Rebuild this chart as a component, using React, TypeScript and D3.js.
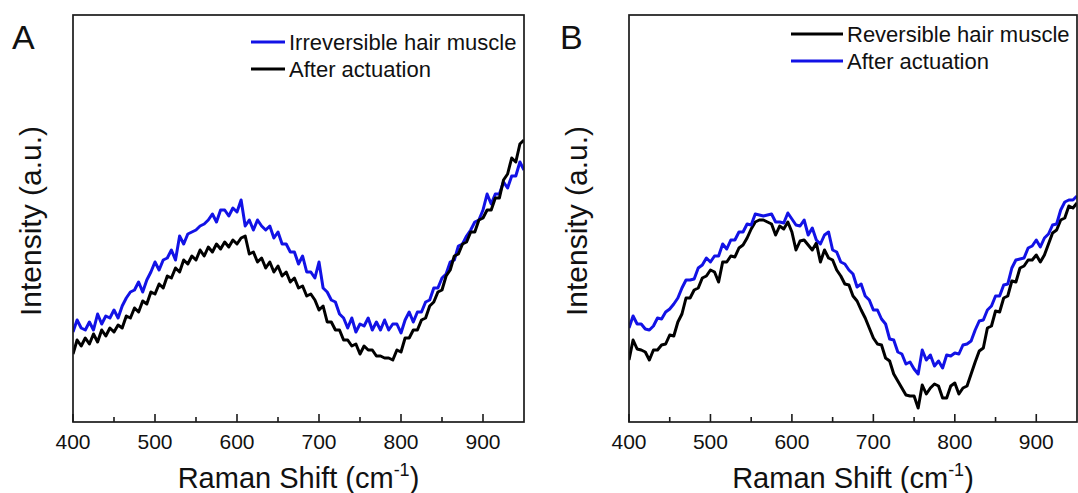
import React from 'react';
import * as d3 from 'd3';

// Raman shift sampling grid (cm-1)
const shifts: number[] = d3.range(400, 951, 5);

// Panel A
const irreversibleA = [
  90, 102, 94, 92, 100, 92, 108, 98, 106, 104,
  112, 104, 116, 124, 130, 132, 140, 130, 142, 150,
  160, 152, 162, 164, 172, 162, 186, 178, 188, 190,
  192, 196, 198, 202, 208, 200, 212, 212, 206, 214,
  210, 222, 196, 202, 192, 202, 196, 192, 196, 184,
  190, 178, 178, 170, 170, 158, 166, 150, 150, 144,
  160, 134, 130, 122, 120, 108, 104, 94, 104, 90,
  98, 96, 104, 92, 100, 92, 102, 92, 98, 98,
  89, 102, 110, 100, 110, 110, 120, 122, 134, 134,
  144, 148, 160, 162, 176, 178, 186, 192, 200, 202,
  212, 228, 218, 228, 228, 240, 234, 246, 246, 260,
  252,
];
const afterA = [
  68, 82, 76, 84, 78, 88, 80, 92, 86, 94,
  90, 97, 94, 106, 104, 114, 110, 121, 118, 130,
  128, 138, 134, 146, 144, 154, 150, 162, 158, 166,
  162, 172, 166, 175, 170, 178, 173, 180, 175, 182,
  178, 184, 186, 168, 170, 160, 164, 154, 160, 150,
  156, 146, 150, 140, 144, 134, 136, 126, 128, 122,
  112, 116, 100, 100, 92, 92, 82, 82, 76, 78,
  68, 76, 72, 72, 66, 66, 64, 64, 62, 72,
  70, 84, 84, 92, 92, 102, 104, 116, 120, 130,
  132, 146, 152, 166, 168, 178, 180, 190, 190, 202,
  204, 212, 212, 224, 224, 242, 248, 264, 260, 278,
  282,
];

// Panel B
const reversibleB = [
  62, 82, 73, 72, 70, 62, 72, 72, 77, 78,
  87, 86, 100, 108, 124, 124, 132, 134, 144, 146,
  152, 150, 140, 160, 160, 166, 165, 174, 177, 184,
  193, 200, 202, 202, 200, 198, 187, 196, 193, 200,
  190, 172, 181, 182, 177, 172, 179, 160, 172, 164,
  162, 152, 146, 138, 137, 126, 121, 112, 104, 94,
  84, 78, 77, 64, 61, 48, 41, 34, 27, 26,
  26, 14, 37, 28, 34, 38, 36, 24, 24, 36,
  39, 28, 34, 36, 48, 60, 71, 74, 94, 96,
  111, 110, 124, 126, 141, 140, 154, 156, 162, 162,
  167, 160, 167, 178, 189, 192, 202, 204, 216, 214,
  219,
];
const afterB = [
  94, 106, 98, 98, 93, 92, 96, 104, 103, 110,
  113, 118, 124, 134, 142, 142, 143, 154, 157, 164,
  160, 166, 166, 178, 173, 182, 182, 190, 190, 198,
  197, 208, 207, 206, 207, 208, 200, 200, 199, 209,
  203, 197, 196, 202, 187, 194, 182, 178, 187, 190,
  172, 170, 160, 158, 152, 148, 135, 138, 126, 122,
  112, 112, 103, 98, 83, 82, 70, 68, 58, 60,
  53, 48, 72, 62, 67, 56, 61, 54, 67, 66,
  69, 68, 77, 78, 81, 92, 101, 102, 112, 116,
  126, 126, 137, 138, 154, 162, 163, 164, 174, 176,
  182, 175, 184, 188, 197, 198, 212, 220, 222, 222,
  226,
];

const majorTicks = [400, 500, 600, 700, 800, 900];
const minorTicks = [450, 550, 650, 750, 850];
const xDomain: [number, number] = [400, 950];
const yDomain: [number, number] = [0, 407];

const BLUE = '#1212e6';
const BLACK = '#000000';
const FONT = '"Liberation Sans", Arial, Helvetica, sans-serif';

type Series = { name: string; values: number[]; color: string };

function Panel(props: {
  id: string;
  letter: string;
  left: number;
  right: number;
  letterX: number;
  yLabelX: number;
  drawOrder: Series[];
  legendOrder: Series[];
  legendLine: [number, number];
  legendTextX: number;
  legendRows: [number, number];
}) {
  const top = 15;
  const bottom = 422;
  const x = d3.scaleLinear().domain(xDomain).range([props.left, props.right]);
  const y = d3.scaleLinear().domain(yDomain).range([bottom, top]);
  const line = d3
    .line<number>()
    .x((_, i) => x(shifts[i]))
    .y((v) => y(v))
    .curve(d3.curveLinear);
  const cx = (props.left + props.right) / 2;
  return (
    <g>
      <defs>
        <clipPath id={`clip-${props.id}`}>
          <rect x={props.left} y={top} width={props.right - props.left} height={bottom - top} />
        </clipPath>
      </defs>
      <g clipPath={`url(#clip-${props.id})`}>
        {props.drawOrder.map((s) => (
          <path
            key={s.name}
            d={line(s.values) || ''}
            fill="none"
            stroke={s.color}
            strokeWidth={3}
            strokeLinejoin="round"
          />
        ))}
      </g>
      <rect
        x={props.left}
        y={top}
        width={props.right - props.left}
        height={bottom - top}
        fill="none"
        stroke="#1a1a1a"
        strokeWidth={1.7}
      />
      {majorTicks.map((t) => (
        <g key={`M${t}`}>
          <line x1={x(t)} x2={x(t)} y1={bottom} y2={bottom - 8} stroke="#1a1a1a" strokeWidth={1.6} />
          <text x={x(t)} y={449} textAnchor="middle" fontSize={21} fontFamily={FONT} fill="#111">
            {t}
          </text>
        </g>
      ))}
      {minorTicks.map((t) => (
        <line key={`m${t}`} x1={x(t)} x2={x(t)} y1={bottom} y2={bottom - 5} stroke="#1a1a1a" strokeWidth={1.6} />
      ))}
      <text x={cx} y={488} textAnchor="middle" fontSize={29} fontFamily={FONT} fill="#111">
        Raman Shift (cm
        <tspan dy={-12} fontSize={18}>-1</tspan>
        <tspan dy={12}>)</tspan>
      </text>
      <text
        transform={`translate(${props.yLabelX},221) rotate(-90)`}
        textAnchor="middle"
        dominantBaseline="central"
        fontSize={30}
        fontFamily={FONT}
        fill="#111"
      >
        Intensity (a.u.)
      </text>
      <text x={props.letterX} y={49} fontSize={34} fontFamily={FONT} fill="#111">
        {props.letter}
      </text>
      {props.legendOrder.map((s, i) => (
        <g key={`leg${s.name}`}>
          <line
            x1={props.legendLine[0]}
            x2={props.legendLine[1]}
            y1={props.legendRows[i]}
            y2={props.legendRows[i]}
            stroke={s.color}
            strokeWidth={2.8}
          />
          <text
            x={props.legendTextX}
            y={props.legendRows[i]}
            dominantBaseline="central"
            fontSize={22}
            fontFamily={FONT}
            fill="#111"
          >
            {s.name}
          </text>
        </g>
      ))}
    </g>
  );
}

export default function App() {
  const seriesA1: Series = { name: 'Irreversible hair muscle', values: irreversibleA, color: BLUE };
  const seriesA2: Series = { name: 'After actuation', values: afterA, color: BLACK };
  const seriesB1: Series = { name: 'Reversible hair muscle', values: reversibleB, color: BLACK };
  const seriesB2: Series = { name: 'After actuation', values: afterB, color: BLUE };
  return (
    <svg
      width={1078}
      height={493}
      viewBox="0 0 1078 493"
      style={{ position: 'absolute', left: 0, top: 0, background: '#fff' }}
    >
      <rect x={0} y={0} width={1078} height={493} fill="#fff" />
      <Panel
        id="A"
        letter="A"
        left={73}
        right={524}
        letterX={12}
        yLabelX={30}
        drawOrder={[seriesA1, seriesA2]}
        legendOrder={[seriesA1, seriesA2]}
        legendLine={[251, 285]}
        legendTextX={289}
        legendRows={[42, 69]}
      />
      <Panel
        id="B"
        letter="B"
        left={629}
        right={1077}
        letterX={560}
        yLabelX={576}
        drawOrder={[seriesB1, seriesB2]}
        legendOrder={[seriesB1, seriesB2]}
        legendLine={[791, 843]}
        legendTextX={847}
        legendRows={[34, 61]}
      />
    </svg>
  );
}
